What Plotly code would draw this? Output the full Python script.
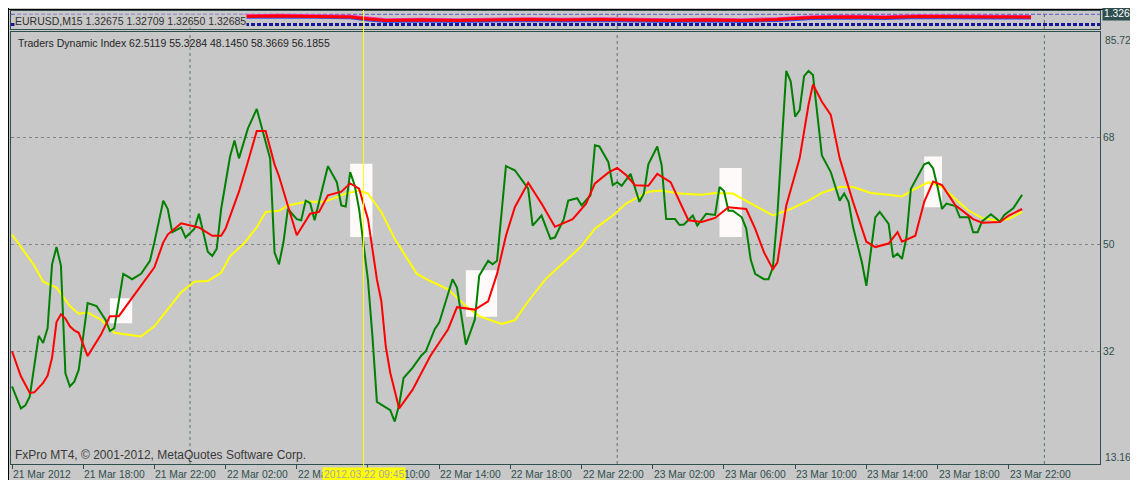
import pandas as pd
import plotly.graph_objects as go

# ---------------- data ----------------
T0 = pd.Timestamp("2012-03-21 14:00")   # first M15 bar on the chart
BAR = pd.Timedelta(minutes=15)

# RSI price line (green)
green_bars = [0, 2, 3, 4, 5, 6, 7, 8, 9, 10, 11, 12, 13, 14, 15, 17, 19, 21, 22, 23, 25, 27, 29, 31, 32,
              34, 35, 36, 38, 39, 41, 42, 44, 45, 46, 47, 49, 50, 51, 53, 55, 56, 58, 59, 60, 61, 62, 64,
              65, 66, 67, 68, 70, 71, 73, 74, 75, 76, 77, 78, 79, 80, 81, 82, 85, 86, 87, 88, 90, 92, 93,
              95, 96, 98, 99, 100, 102, 104, 105, 107, 108, 109, 111, 113, 114, 116, 117, 119, 121, 122,
              124, 125, 127, 128, 130, 131, 132, 134, 135, 136, 137, 139, 141, 142, 143, 145, 146, 147,
              149, 150, 151, 152, 153, 154, 156, 158, 159, 160, 161, 162, 164, 165, 166, 167, 169, 170,
              171, 172, 173, 174, 175, 176, 177, 178, 179, 180, 182, 184, 186, 187, 188, 189, 190, 191,
              192, 193, 194, 195, 197, 198, 199, 200, 201, 202, 204, 205, 206, 207, 208, 209, 210, 212,
              213, 215, 216, 217, 218, 220, 222, 223, 225, 227]
green_vals = [26.2, 22.5, 23.0, 24.5, 29.6, 34.7, 33.5, 36.0, 46.7, 49.6, 46.5, 28.4, 26.2, 27.0, 29.0,
              40.2, 39.7, 37.4, 35.5, 36.0, 45.1, 44.2, 45.1, 47.3, 50.4, 57.4, 56.0, 52.1, 52.9, 51.2,
              52.7, 55.2, 48.8, 48.1, 49.3, 56.0, 64.8, 67.5, 64.5, 69.5, 72.8, 70.1, 64.5, 48.7, 46.7,
              50.4, 56.0, 54.3, 54.1, 57.4, 57.0, 54.1, 60.0, 63.2, 60.5, 56.6, 56.4, 62.2, 60.0, 56.0,
              50.0, 44.0, 34.6, 23.6, 22.2, 20.3, 23.1, 27.6, 29.3, 31.4, 32.1, 35.8, 36.9, 42.0, 44.2,
              42.8, 33.2, 37.4, 44.8, 47.3, 46.7, 47.3, 63.2, 62.5, 61.4, 59.4, 53.2, 54.9, 51.0, 51.2,
              54.3, 57.4, 57.8, 56.6, 58.3, 66.7, 66.5, 63.9, 60.0, 60.5, 59.9, 61.9, 57.2, 58.6, 63.5,
              66.5, 63.3, 54.3, 54.3, 53.3, 53.4, 54.1, 54.9, 53.2, 55.2, 55.0, 59.7, 59.0, 55.7, 55.7,
              54.6, 52.7, 47.5, 45.1, 44.2, 44.2, 46.2, 55.0, 68.0, 79.2, 77.4, 71.5, 72.6, 78.3, 79.2,
              78.5, 65.0, 62.2, 57.4, 58.6, 57.2, 53.0, 50.0, 47.0, 43.1, 49.3, 54.6, 55.5, 53.5, 47.9,
              48.5, 47.6, 51.2, 59.4, 62.2, 63.5, 63.8, 62.8, 59.7, 56.0, 56.9, 56.5, 54.6, 54.6, 52.1,
              52.1, 53.9, 55.1, 53.9, 55.0, 56.1, 58.4]

# Trade signal line (red)
red_bars = [0, 2, 4, 5, 7, 8, 9, 10, 11, 12, 13, 14, 15, 17, 20, 22, 24, 27, 30, 32, 34, 35, 38, 40, 42,
            45, 47, 48, 50, 51, 53, 55, 57, 59, 60, 62, 64, 67, 69, 71, 74, 76, 78, 80, 82, 83, 84, 85,
            87, 90, 94, 98, 100, 104, 107, 109, 111, 113, 116, 119, 122, 126, 129, 131, 134, 136, 138,
            140, 143, 145, 148, 152, 155, 158, 161, 165, 167, 169, 171, 172, 174, 177, 179, 180, 181,
            182, 184, 186, 189, 192, 194, 197, 199, 200, 203, 205, 207, 209, 212, 216, 218, 222, 224, 227]
red_vals = [32.1, 27.9, 25.1, 25.2, 26.8, 28.0, 31.0, 37.0, 38.3, 37.6, 36.3, 35.6, 35.2, 31.3, 34.9,
            38.0, 38.0, 41.1, 44.2, 46.2, 50.4, 51.7, 53.6, 53.2, 52.9, 51.5, 51.5, 52.7, 56.8, 58.9,
            63.9, 69.1, 69.1, 63.5, 61.5, 56.6, 51.6, 55.2, 55.5, 58.3, 58.9, 60.3, 59.4, 54.3, 44.2,
            40.5, 32.9, 28.5, 22.5, 25.6, 31.3, 35.8, 39.5, 39.1, 40.5, 45.1, 51.5, 56.3, 60.4, 56.9,
            53.0, 54.3, 56.9, 60.3, 62.1, 62.9, 61.7, 60.0, 59.9, 61.9, 60.5, 54.1, 53.8, 54.5, 56.3,
            56.0, 52.7, 48.7, 45.9, 47.0, 56.6, 64.5, 73.5, 76.9, 75.5, 74.0, 71.8, 64.5, 57.2, 50.5,
            49.6, 50.2, 52.1, 50.5, 51.5, 57.2, 60.6, 60.0, 56.6, 54.3, 53.7, 53.8, 54.9, 56.0]

# Market base line (yellow)
yellow_bars = [0, 5, 7, 10, 13, 15, 17, 20, 23, 26, 29, 32, 35, 38, 41, 44, 47, 49, 52, 55, 57, 60, 62,
               66, 70, 72, 75, 78, 80, 83, 86, 91, 94, 98, 102, 105, 110, 113, 116, 120, 124, 128, 131,
               135, 138, 143, 146, 150, 155, 158, 162, 165, 167, 171, 175, 179, 182, 186, 189, 193, 197,
               200, 203, 206, 209, 212, 215, 218, 221, 224, 227]
yellow_vals = [51.7, 46.5, 43.8, 42.8, 39.7, 38.4, 38.6, 37.4, 35.2, 34.9, 34.6, 36.3, 39.1, 42.0, 43.8,
               43.9, 45.3, 48.1, 50.1, 52.9, 55.5, 55.7, 56.6, 57.2, 57.2, 57.7, 58.6, 59.1, 58.6, 55.5,
               51.0, 45.1, 43.9, 42.5, 39.7, 38.0, 36.7, 37.3, 40.5, 44.3, 47.0, 49.8, 52.7, 54.9, 56.9,
               58.9, 59.1, 58.6, 58.4, 58.7, 58.6, 57.4, 56.6, 54.9, 56.0, 57.4, 58.7, 59.7, 59.7, 58.7,
               58.4, 58.1, 59.4, 60.5, 59.7, 57.7, 55.7, 54.5, 54.1, 54.3, 55.5]

# white signal boxes (bar span, value span)
box_start = [22, 76, 102, 159, 205]
box_end = [27, 81, 109, 164, 209]
box_low = [36.8, 51.3, 37.9, 51.3, 56.3]
box_high = [41.0, 63.6, 45.7, 62.9, 64.8]

# collapsed EURUSD price window (top strip)
strip_bars = [52, 60, 68, 76, 80, 84, 92, 100, 108, 116, 124, 132, 140, 148, 156, 164, 172, 180,
              188, 196, 204, 212, 220, 229]
strip_close = [1.3275, 1.3280, 1.3275, 1.3270, 1.3250, 1.3235, 1.3240, 1.3235, 1.3240, 1.3245,
               1.3240, 1.3245, 1.3240, 1.3235, 1.3240, 1.3235, 1.3245, 1.3265, 1.3270, 1.3265,
               1.3275, 1.3270, 1.3270, 1.32685]
strip_high = [1.3287, 1.3292, 1.3287, 1.3283, 1.3265, 1.3247, 1.3252, 1.3248, 1.3252, 1.3257,
              1.3252, 1.3257, 1.3252, 1.3247, 1.3252, 1.3247, 1.3258, 1.3278, 1.3283, 1.3277,
              1.3287, 1.3282, 1.3282, 1.3280]
strip_low = [1.3262, 1.3266, 1.3262, 1.3257, 1.3236, 1.3221, 1.3226, 1.3221, 1.3226, 1.3231,
             1.3226, 1.3231, 1.3226, 1.3221, 1.3226, 1.3221, 1.3231, 1.3251, 1.3256, 1.3251,
             1.3261, 1.3256, 1.3256, 1.3255]
strip_band_top = 1.3297
strip_band_bottom = 1.3195
strip_range = [1.3150, 1.3330]

tick_bars = [0, 16, 32, 48, 64, 80, 96, 112, 128, 144, 160, 176, 192, 208, 224]
tick_labels = ["21 Mar 2012", "21 Mar 18:00", "21 Mar 22:00", "22 Mar 02:00", "22 Mar 06:00",
               "22 Mar 10:00", "22 Mar 14:00", "22 Mar 18:00", "22 Mar 22:00", "23 Mar 02:00",
               "23 Mar 06:00", "23 Mar 10:00", "23 Mar 14:00", "23 Mar 18:00", "23 Mar 22:00"]
grid_times = ["2012-03-22 00:00", "2012-03-23 00:00", "2012-03-24 00:00"]
cursor_time = "2012-03-22 09:45"
cursor_label = "2012.03.22 09:45"

y_min, y_max = 13.1622, 85.7274
y_levels = [68, 50, 32]
y_level_text = ["68", "50", "32"]

symbol_text = "EURUSD,M15 1.32675 1.32709 1.32650 1.32685"
last_price = "1.32685"
indicator_text = "Traders Dynamic Index 62.5119 55.3284 48.1450 58.3669 56.1855"
copyright_text = "FxPro MT4, \u00a9 2001-2012, MetaQuotes Software Corp."

# ---------------- helpers ----------------
# the page body keeps its default 8px margin, which gives the white border of the screenshot
OFF = 8
W, H = 1138 - OFF, 480 - OFF
BG = "#c8c8c8"
SLATE = "#2f4f4f"
FONT = "Liberation Sans"


def t(b):
    return (T0 + b * BAR).strftime("%Y-%m-%d %H:%M:%S.%f")


def px(p):   # screenshot pixel x -> paper
    return (p - OFF) / W


def py(p):   # screenshot pixel y -> paper
    return 1 - (p - OFF) / H


x_range = [t(-0.225), t(244.5)]
x_dom = [px(11), px(1100)]
main_dom = [py(464), py(32)]
strip_dom = [py(29), py(11)]

fig = go.Figure()

# top strip (collapsed price chart)
fig.add_trace(go.Scatter(x=[t(b) for b in strip_bars], y=strip_low, xaxis="x2", yaxis="y2",
                         mode="lines", line=dict(color="#3050ff", width=2), hoverinfo="skip"))
fig.add_trace(go.Scatter(x=[t(b) for b in strip_bars], y=strip_high, xaxis="x2", yaxis="y2",
                         mode="lines", line=dict(color="#ff30c0", width=2), hoverinfo="skip"))
fig.add_trace(go.Scatter(x=[t(b) for b in strip_bars], y=strip_close, xaxis="x2", yaxis="y2",
                         mode="lines", line=dict(color="#ff0000", width=3), hoverinfo="skip"))

# indicator lines
fig.add_trace(go.Scatter(x=[t(b) for b in yellow_bars], y=yellow_vals, mode="lines",
                         line=dict(color="#ffff00", width=2), name="Market Base"))
fig.add_trace(go.Scatter(x=[t(b) for b in green_bars], y=green_vals, mode="lines",
                         line=dict(color="#008000", width=2), name="RSI Price"))
fig.add_trace(go.Scatter(x=[t(b) for b in red_bars], y=red_vals, mode="lines",
                         line=dict(color="#ff0000", width=2), name="Trade Signal"))

shapes = []
# white boxes
for s, e, lo, hi in zip(box_start, box_end, box_low, box_high):
    shapes.append(dict(type="rect", xref="x", yref="y", x0=t(s), x1=t(e), y0=lo, y1=hi,
                       fillcolor="#fffafa", line=dict(width=0), layer="below"))
# vertical day separators
for g in grid_times:
    shapes.append(dict(type="line", xref="x", yref="y domain", x0=g, x1=g, y0=0, y1=1,
                       line=dict(color="#5f7272", width=1, dash="3px,3px"), layer="below"))
    shapes.append(dict(type="line", xref="x2", yref="y2 domain", x0=g, x1=g, y0=0, y1=1,
                       line=dict(color="#5f7272", width=1, dash="3px,3px"), layer="below"))
# strip band lines
shapes.append(dict(type="line", xref="x2 domain", yref="y2", x0=0, x1=1, y0=strip_band_top,
                   y1=strip_band_top, line=dict(color="#5858c8", width=1, dash="4px,2px"), layer="below"))
shapes.append(dict(type="line", xref="x2 domain", yref="y2", x0=0, x1=1, y0=strip_band_bottom,
                   y1=strip_band_bottom, line=dict(color="#16169a", width=3, dash="4px,2px"), layer="below"))
# cursor line
shapes.append(dict(type="line", xref="x", yref="paper", x0=cursor_time, x1=cursor_time,
                   y0=py(468), y1=py(10), line=dict(color="#ffff00", width=1), layer="above"))
# black outer frame (left and top)
shapes.append(dict(type="line", xref="paper", yref="paper", x0=px(8.5), x1=px(8.5), y0=0, y1=1,
                   line=dict(color="black", width=1), layer="above"))
shapes.append(dict(type="line", xref="paper", yref="paper", x0=0, x1=1, y0=py(9.5), y1=py(9.5),
                   line=dict(color="black", width=1), layer="above"))

annotations = []
for b, lab in zip(tick_bars, tick_labels):
    annotations.append(dict(x=t(b), xref="x", y=py(474), yref="paper", text=lab, showarrow=False,
                            xanchor="left", yanchor="middle", xshift=-1,
                            font=dict(family=FONT, size=10.3, color=SLATE)))
annotations.append(dict(x=cursor_time, xref="x", y=py(474), yref="paper", text=cursor_label,
                        showarrow=False, xanchor="center", yanchor="middle", bgcolor="#ffff00",
                        borderpad=1, font=dict(family=FONT, size=10.3, color="#a8a8a8")))
annotations.append(dict(x=px(1103), xref="paper", y=py(40), yref="paper", text=f"{y_max:.4f}",
                        showarrow=False, xanchor="left", yanchor="middle",
                        font=dict(family=FONT, size=10.3, color=SLATE)))
annotations.append(dict(x=px(1103), xref="paper", y=py(457), yref="paper", text=f"{y_min:.4f}",
                        showarrow=False, xanchor="left", yanchor="middle",
                        font=dict(family=FONT, size=10.3, color=SLATE)))
annotations.append(dict(x=px(1102), xref="paper", y=py(14), yref="paper", text=last_price,
                        showarrow=False, xanchor="left", yanchor="middle", bgcolor=SLATE, borderpad=1,
                        font=dict(family=FONT, size=10.3, color="white")))
annotations.append(dict(x=px(14), xref="paper", y=py(21), yref="paper", text=symbol_text,
                        showarrow=False, xanchor="left", yanchor="middle", bgcolor=BG, borderpad=0,
                        font=dict(family=FONT, size=10.5, color="#303030")))
annotations.append(dict(x=px(16), xref="paper", y=py(43), yref="paper", text=indicator_text,
                        showarrow=False, xanchor="left", yanchor="middle",
                        font=dict(family=FONT, size=10.5, color="#252525")))
annotations.append(dict(x=px(13), xref="paper", y=py(455), yref="paper", text=copyright_text,
                        showarrow=False, xanchor="left", yanchor="middle",
                        font=dict(family=FONT, size=12, color="#3a3a3a")))

fig.update_layout(
    width=W, height=H, margin=dict(l=0, r=0, t=0, b=0),
    paper_bgcolor=BG, plot_bgcolor=BG, showlegend=False,
    font=dict(family=FONT, size=10.3, color=SLATE),
    xaxis=dict(domain=x_dom, range=x_range, type="date", showgrid=False, zeroline=False,
               showline=True, mirror=True, linecolor=SLATE, linewidth=1,
               tickmode="array", tickvals=[t(b) for b in tick_bars], showticklabels=False,
               ticks="outside", ticklen=4, tickcolor=SLATE, anchor="y"),
    yaxis=dict(domain=main_dom, range=[y_min, y_max], side="right", anchor="x",
               tickmode="array", tickvals=y_levels, ticktext=y_level_text,
               showgrid=True, gridcolor="#858585", griddash="3px,3px", gridwidth=1,
               zeroline=False, showline=True, mirror=True, linecolor=SLATE, ticks="",
               tickfont=dict(family=FONT, size=10.3, color=SLATE)),
    xaxis2=dict(domain=x_dom, range=x_range, type="date", anchor="y2", showgrid=False,
                zeroline=False, showline=True, mirror=True, linecolor=SLATE,
                showticklabels=False, ticks=""),
    yaxis2=dict(domain=strip_dom, range=strip_range, anchor="x2", showgrid=False, zeroline=False,
                showline=True, mirror=True, linecolor=SLATE, showticklabels=False, ticks=""),
    shapes=shapes, annotations=annotations,
)

fig.write_html(
    "out.html",
    post_script="document.documentElement.style.overflow='hidden';"
                "document.body.style.overflow='hidden';",
)
